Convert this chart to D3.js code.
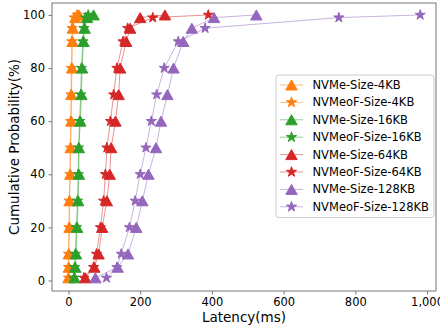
<!DOCTYPE html>
<html>
<head>
<meta charset="utf-8">
<script src="https://cdn.jsdelivr.net/npm/d3@7"></script>
<style>
  body { margin: 0; background: #fff; }
  text { font-family: "DejaVu Sans", sans-serif; fill: #000; }
</style>
</head>
<body>
<svg width="440" height="326"></svg>
<script>
// cumulative probability levels (%)
const levels = [1, 5, 10, 20, 30, 40, 50, 60, 70, 80, 90, 95, 99, 100];

// latency (ms) at each level
const nvme4 = [0, 1, 1, 3, 3, 5, 6, 8, 8, 10, 11, 12, 19, 29];
const nvmeof4 = [0, 0, 0, 1, 2, 4, 5, 6, 7, 8, 9, 10, 16, 24];
const nvme16 = [17, 19, 21, 24, 27, 29, 29, 33, 36, 38, 42, 45, 52, 70];
const nvmeof16 = [15, 17, 19, 22, 25, 27, 28, 31, 34, 36, 40, 43, 48, 55];
const nvme64 = [47, 72, 84, 94, 107, 115, 119, 131, 140, 144, 161, 172, 200, 269];
const nvmeof64 = [43, 70, 78, 89, 98, 103, 107, 117, 126, 135, 152, 165, 235, 390];
const nvme128 = [75, 137, 166, 189, 206, 223, 244, 258, 276, 293, 320, 344, 406, 524];
const nvmeof128 = [106, 135, 147, 170, 186, 200, 216, 231, 246, 267, 306, 381, 754, 981];

const xTicks = [0, 200, 400, 600, 800, 1000];
const yTicks = [0, 20, 40, 60, 80, 100];

const series = [
    { name: "NVMe-Size-4KB", values: nvme4, color: "#ff7f0e", marker: "tri" },
    { name: "NVMeoF-Size-4KB", values: nvmeof4, color: "#ff7f0e", marker: "star" },
    { name: "NVMe-Size-16KB", values: nvme16, color: "#2ca02c", marker: "tri" },
    { name: "NVMeoF-Size-16KB", values: nvmeof16, color: "#2ca02c", marker: "star" },
    { name: "NVMe-Size-64KB", values: nvme64, color: "#d62728", marker: "tri" },
    { name: "NVMeoF-Size-64KB", values: nvmeof64, color: "#d62728", marker: "star" },
    { name: "NVMe-Size-128KB", values: nvme128, color: "#9467bd", marker: "tri" },
    { name: "NVMeoF-Size-128KB", values: nvmeof128, color: "#9467bd", marker: "star" }
];

const svg = d3.select("svg");

const plot = { left: 52, right: 436, top: 3, bottom: 291 };

const x = d3.scaleLinear().domain([-46, 1025]).range([plot.left, plot.right]);
const y = d3.scaleLinear().domain([-3.95, 104.5]).range([plot.bottom, plot.top]);

// matplotlib style triangle, centred on its bounding box
const triangle = {
    draw(ctx, size) {
        const h = Math.sqrt(size);
        ctx.moveTo(0, -h / 2);
        ctx.lineTo(-h * 0.57, h / 2);
        ctx.lineTo(h * 0.57, h / 2);
        ctx.closePath();
    }
};
const symFor = m => m === "tri"
    ? d3.symbol().type(triangle).size(100)
    : d3.symbol().type(d3.symbolStar).size(32);

// axes
const xAxis = svg.append("g")
    .attr("transform", `translate(0,${plot.bottom})`)
    .call(d3.axisBottom(x).tickValues(xTicks).tickSize(3.5).tickPadding(3.5));
const yAxis = svg.append("g")
    .attr("transform", `translate(${plot.left},0)`)
    .call(d3.axisLeft(y).tickValues(yTicks).tickSize(3.5).tickPadding(3.5));

[xAxis, yAxis].forEach(a => {
    a.select(".domain").remove();
    a.selectAll("line").attr("stroke", "#555").attr("stroke-width", 0.8);
    a.selectAll("text")
        .style("font-family", "DejaVu Sans")
        .style("font-size", "11.5px")
        .attr("fill", "#000");
});

// frame
svg.append("rect")
    .attr("x", plot.left)
    .attr("y", plot.top)
    .attr("width", plot.right - plot.left)
    .attr("height", plot.bottom - plot.top)
    .attr("fill", "none")
    .attr("stroke", "#777")
    .attr("stroke-width", 1);

const g = svg.append("g");

const line = d3.line()
    .x(d => x(d[0]))
    .y(d => y(d[1]));

series.forEach(s => {
    const pts = s.values.map((v, i) => [v, levels[i]]);
    g.append("path")
        .attr("d", line(pts))
        .attr("fill", "none")
        .attr("stroke", s.color)
        .attr("stroke-opacity", 0.5)
        .attr("stroke-width", 1);
    g.selectAll(null)
        .data(pts)
        .enter()
        .append("path")
        .attr("d", symFor(s.marker))
        .attr("transform", d => `translate(${x(d[0])},${y(d[1])})`)
        .attr("fill", s.color)
        .attr("stroke", s.color)
        .attr("stroke-width", 1);
});

// axis labels
svg.append("text")
    .attr("x", (plot.left + plot.right) / 2)
    .attr("y", 317)
    .attr("text-anchor", "middle")
    .attr("dominant-baseline", "central")
    .style("font-size", "13.5px")
    .text("Latency(ms)");

svg.append("text")
    .attr("transform", `translate(14,${(plot.top + plot.bottom) / 2}) rotate(-90)`)
    .attr("text-anchor", "middle")
    .attr("dominant-baseline", "central")
    .style("font-size", "13.5px")
    .text("Cumulative Probability(%)");

// legend
const legend = svg.append("g");
legend.append("rect")
    .attr("x", 276)
    .attr("y", 75)
    .attr("width", 158)
    .attr("height", 142.5)
    .attr("rx", 3)
    .attr("fill", "#fff")
    .attr("fill-opacity", 0.8)
    .attr("stroke", "#ccc")
    .attr("stroke-width", 1);

series.forEach((s, i) => {
    const cy = 85 + i * 17.4;
    legend.append("line")
        .attr("x1", 280).attr("x2", 303)
        .attr("y1", cy).attr("y2", cy)
        .attr("stroke", s.color)
        .attr("stroke-opacity", 0.5)
        .attr("stroke-width", 1);
    legend.append("path")
        .attr("d", symFor(s.marker)())
        .attr("transform", `translate(291.5,${cy})`)
        .attr("fill", s.color)
        .attr("stroke", s.color)
        .attr("stroke-width", 1);
    legend.append("text")
        .attr("x", 312.5)
        .attr("y", cy)
        .attr("dominant-baseline", "central")
        .style("font-size", "11.5px")
        .text(s.name);
});
</script>
</body>
</html>
